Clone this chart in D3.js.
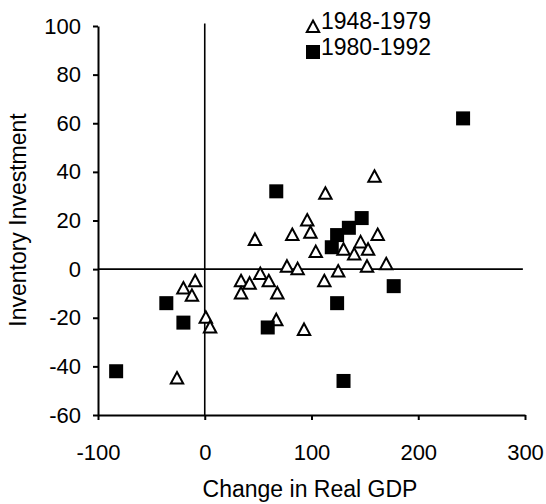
<!DOCTYPE html>
<html lang="en">
<head>
<meta charset="UTF-8">
<title>Inventory Investment vs Change in Real GDP</title>
<script src="https://d3js.org/d3.v7.min.js"></script>
<style>
  body { margin: 0; background: #fff; }
  text { font-family: "Liberation Sans", Arial, sans-serif; fill: #000; }
</style>
</head>
<body>
<div id="chart"></div>
<script>
// 1948-1979 (triangles)
const earlyX = [-20, -9, -12, 1, 5, -26, 34, 42, 34, 52, 60, 68, 77, 87, 67, 93,
                47, 82, 96, 99, 104, 113, 159, 162, 130, 140, 146, 153, 152, 170, 125, 112];
const earlyY = [-8, -5, -11, -20, -24, -45, -5, -6, -10, -2, -5, -10, 1, 0, -21, -25,
                12, 14, 20, 15, 7, 31, 38, 14, 8, 6, 11, 8, 1, 2, -1, -5];

// 1980-1992 (filled squares)
const lateX = [-83, -36, -20, 67, 59, 119, 124, 135, 147, 124, 177, 130, 242];
const lateY = [-42, -14, -22, 32, -24, 9, 14, 17, 21, -14, -7, -46, 62];

const xTicks = [-100, 0, 100, 200, 300];
const yTicks = [-60, -40, -20, 0, 20, 40, 60, 80, 100];
const seriesNames = ["1948-1979", "1980-1992"];

const width = 546, height = 504;
const margin = { top: 26, right: 21, bottom: 89, left: 98 };

const x = d3.scaleLinear().domain([-100, 300]).range([margin.left, width - margin.right]);
const y = d3.scaleLinear().domain([-60, 100]).range([height - margin.bottom, margin.top]);

const svg = d3.select("#chart").append("svg")
    .attr("width", width)
    .attr("height", height);

// zero lines
svg.append("line")
    .attr("x1", x(-100)).attr("x2", x(298))
    .attr("y1", y(0)).attr("y2", y(0))
    .attr("stroke", "#000").attr("stroke-width", 1.6);
svg.append("line")
    .attr("x1", x(0)).attr("x2", x(0))
    .attr("y1", y(101)).attr("y2", y(-60))
    .attr("stroke", "#000").attr("stroke-width", 1.6);

// axes (plain hyphen for negatives, like the original)
const fmt = d => String(d);
const xAxis = svg.append("g")
    .attr("transform", `translate(0,${y(-60)})`)
    .call(d3.axisBottom(x).tickValues(xTicks).tickFormat(fmt)
        .tickSize(5).tickSizeOuter(0).tickPadding(24));
const yAxis = svg.append("g")
    .attr("transform", `translate(${x(-100)},0)`)
    .call(d3.axisLeft(y).tickValues(yTicks).tickFormat(fmt)
        .tickSize(5).tickSizeOuter(0).tickPadding(12));

[xAxis, yAxis].forEach(g => {
    g.select(".domain").attr("stroke", "#000").attr("stroke-width", 2);
    g.selectAll(".tick line").attr("stroke", "#000").attr("stroke-width", 2);
    g.selectAll(".tick text")
        .attr("font-family", "Liberation Sans, Arial, sans-serif")
        .attr("font-size", 22)
        .attr("fill", "#000");
});

// markers
const triPath = "M0,-6.5L6.2,5L-6.2,5Z";

svg.append("g").selectAll("path")
    .data(earlyX.map((v, i) => [v, earlyY[i]]))
    .join("path")
    .attr("d", triPath)
    .attr("transform", d => `translate(${x(d[0])},${y(d[1])})`)
    .attr("fill", "#fff")
    .attr("stroke", "#000")
    .attr("stroke-width", 2);

svg.append("g").selectAll("rect")
    .data(lateX.map((v, i) => [v, lateY[i]]))
    .join("rect")
    .attr("x", d => x(d[0]) - 7)
    .attr("y", d => y(d[1]) - 7)
    .attr("width", 14)
    .attr("height", 14)
    .attr("fill", "#000");

// legend
const legend = svg.append("g");
legend.append("path")
    .attr("d", triPath)
    .attr("transform", "translate(313,27)")
    .attr("fill", "#fff").attr("stroke", "#000").attr("stroke-width", 2);
legend.append("rect")
    .attr("x", 306).attr("y", 45).attr("width", 14).attr("height", 14)
    .attr("fill", "#000");
legend.append("text")
    .attr("x", 321).attr("y", 29)
    .attr("font-size", 23)
    .text(seriesNames[0]);
legend.append("text")
    .attr("x", 321).attr("y", 55)
    .attr("font-size", 23)
    .text(seriesNames[1]);

// axis titles
svg.append("text")
    .attr("x", 310).attr("y", 497)
    .attr("text-anchor", "middle")
    .attr("font-size", 23)
    .text("Change in Real GDP");

svg.append("text")
    .attr("transform", "translate(26,220) rotate(-90)")
    .attr("text-anchor", "middle")
    .attr("font-size", 23)
    .text("Inventory Investment");
</script>
</body>
</html>
